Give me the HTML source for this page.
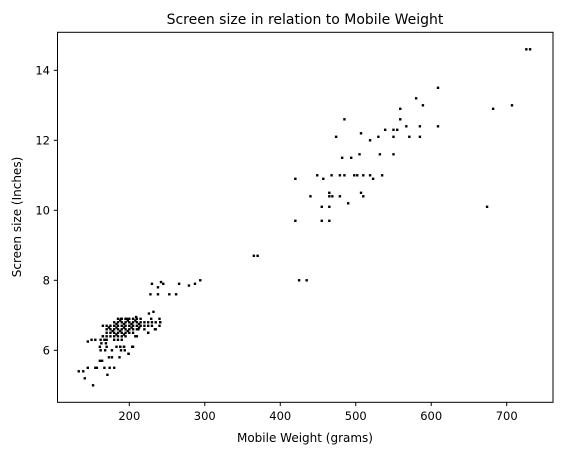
<!DOCTYPE html>
<html><head><meta charset="utf-8"><style>
body{margin:0;background:#fff;}
svg{display:block;font-family:"DejaVu Sans","Liberation Sans",sans-serif;}
</style></head><body>
<svg id="chart" width="562" height="455" viewBox="0 0 562 455" xmlns="http://www.w3.org/2000/svg">
<rect width="562" height="455" fill="#fff"/>
<text x="305" y="24" font-size="14" text-anchor="middle" fill="#000">Screen size in relation to Mobile Weight</text>
<g id="marks"></g>
<rect x="57.5" y="32.3" width="495.5" height="370" fill="none" stroke="#000" stroke-width="1"/>
<g id="axes"></g>
<text x="305" y="442" font-size="12" text-anchor="middle" fill="#000">Mobile Weight (grams)</text>
<text transform="translate(21,217) rotate(-90)" font-size="12" text-anchor="middle" fill="#000">Screen size (Inches)</text>
</svg>
<script>
const weights = [609,580,589,559,485,559,567,585,609,539,550,555,507,474,530,550,571,585,519,482,494,505,532,550,420,449,457,468,479,485,498,502,510,519,523,535,465,440,465,469,479,507,510,455,465,490,420,455,465,674,707,682,726,731,425,435,365,370,
230,238,242,245,266,279,287,294,228,238,253,262,226,232,241,229,225,235,199,204,193,188,187,173,177,161,164,171,145,155,157,167,174,180,133,139,141,152,145,150,155,162,167,162,168,177,189,194,189,197,209,240,241,234,225,212,208,210,163,169,161,170,183,188,193,204,205,199,165,
185,190,195,200,205,210,215,188,198,208,
180,185,190,195,200,205,210,215,220,225,230,235,183,193,203,213,
165,170,175,180,185,190,195,200,205,210,215,220,225,230,240,173,183,193,203,213,
170,175,180,185,190,195,200,205,210,220,178,188,198,
170,175,180,185,190,195,200,205,183,193,
165,170,175,180,185,190,195,
170,180,185,190];
const screens = [13.5,13.2,13.0,12.9,12.6,12.6,12.4,12.4,12.4,12.3,12.3,12.3,12.2,12.1,12.1,12.1,12.1,12.1,12.0,11.5,11.5,11.6,11.6,11.6,10.9,11.0,10.9,11.0,11.0,11.0,11.0,11.0,11.0,11.0,10.9,11.0,10.5,10.4,10.4,10.4,10.4,10.5,10.4,10.1,10.1,10.2,9.7,9.7,9.7,10.1,13.0,12.9,14.6,14.6,8.0,8.0,8.7,8.7,
7.9,7.8,7.95,7.9,7.9,7.85,7.9,8.0,7.6,7.6,7.6,7.6,7.05,7.1,6.8,6.9,6.5,6.6,5.9,6.1,6.1,6.1,5.8,5.8,5.8,5.7,5.7,5.3,5.5,5.5,5.5,5.5,5.5,5.5,5.4,5.4,5.2,5.0,6.25,6.3,6.3,6.3,6.3,6.0,6.0,6.0,6.0,6.0,6.9,6.9,6.95,6.9,6.8,6.6,6.5,6.6,6.4,6.4,6.2,6.2,6.1,6.1,6.1,6.1,6.1,6.1,6.1,5.9,6.4,
6.9,6.9,6.9,6.9,6.9,6.9,6.9,6.85,6.85,6.85,
6.8,6.8,6.8,6.8,6.8,6.8,6.8,6.8,6.8,6.8,6.8,6.8,6.75,6.75,6.75,6.75,
6.7,6.7,6.7,6.7,6.7,6.7,6.7,6.7,6.7,6.7,6.7,6.7,6.7,6.7,6.7,6.65,6.65,6.65,6.65,6.65,
6.6,6.6,6.6,6.6,6.6,6.6,6.6,6.6,6.6,6.6,6.55,6.55,6.55,
6.5,6.5,6.5,6.5,6.5,6.5,6.5,6.5,6.45,6.45,
6.4,6.4,6.4,6.4,6.4,6.4,6.4,
6.3,6.3,6.3,6.3];
const xTicks = [200,300,400,500,600,700];
const yTicks = [6,8,10,12,14];
const NS = "http://www.w3.org/2000/svg";
function xScale(v){return 129.3 + (v-200)*0.7548;}
function yScale(v){return 350.3 - (v-6)*35;}
const marks = document.getElementById('marks');
for(let i=0;i<weights.length;i++){
  const c=document.createElementNS(NS,'rect');
  c.setAttribute('x',(xScale(weights[i])-1.2).toFixed(2));
  c.setAttribute('y',(yScale(screens[i])-1.2).toFixed(2));
  c.setAttribute('width','2.4');c.setAttribute('height','2.4');
  c.setAttribute('fill','#000');
  
  
  marks.appendChild(c);
}
const axes=document.getElementById('axes');
xTicks.forEach(t=>{
  const x=xScale(t);
  const l=document.createElementNS(NS,'line');
  l.setAttribute('x1',x);l.setAttribute('x2',x);l.setAttribute('y1',402.3);l.setAttribute('y2',406);
  l.setAttribute('stroke','#000');
  
  
  axes.appendChild(l);
  const tx=document.createElementNS(NS,'text');
  tx.setAttribute('x',x);tx.setAttribute('y',420);tx.setAttribute('font-size','11.5');
  tx.setAttribute('text-anchor','middle');tx.textContent=t;
  
  
  axes.appendChild(tx);
});
yTicks.forEach(t=>{
  const y=yScale(t);
  const l=document.createElementNS(NS,'line');
  l.setAttribute('x1',53.8);l.setAttribute('x2',57.5);l.setAttribute('y1',y);l.setAttribute('y2',y);
  l.setAttribute('stroke','#000');
  
  
  axes.appendChild(l);
  const tx=document.createElementNS(NS,'text');
  tx.setAttribute('x',50);tx.setAttribute('y',y+4);tx.setAttribute('font-size','11.5');
  tx.setAttribute('text-anchor','end');tx.textContent=t;
  
  
  axes.appendChild(tx);
});
</script>
</body></html>
